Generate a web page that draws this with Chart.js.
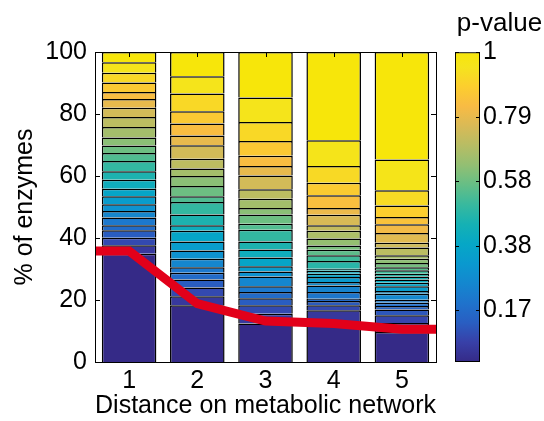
<!DOCTYPE html>
<html><head><meta charset="utf-8">
<script src="https://cdn.jsdelivr.net/npm/chart.js@4/dist/chart.umd.min.js"></script>
<style>
html,body{margin:0;padding:0;background:#fff;}
#wrap{position:relative;width:544px;height:421px;overflow:hidden;}
#main{position:absolute;left:0;top:0;}
#cbar{position:absolute;left:440px;top:0;}
</style></head><body>
<div id="wrap"><canvas id="main" width="544" height="421"></canvas><canvas id="cbar" width="104" height="421"></canvas></div>
<script>
// ---- data ----
const categories = ['1', '2', '3', '4', '5'];
// % of enzymes in successive p-value bins (bottom = smallest p-value)
const bar1 = [34.9, 2.8, 2.4, 2.4, 1.6, 2.5, 2.1, 2.2, 2.6, 2.4, 2.9, 2.7, 3.3, 2.6, 2.4, 2.6, 3.4, 3.2, 3.0, 2.8, 2.3, 3.1, 3.1, 3.4, 3.3];
const bar2 = [18.3, 2.9, 2.8, 2.6, 2.2, 1.8, 2.7, 2.7, 2.9, 3.4, 1.8, 3.5, 4.0, 1.9, 3.3, 3.2, 2.4, 3.2, 4.3, 3.2, 3.8, 4.0, 5.7, 5.6, 7.8];
const bar3 = [12.4, 3.2, 2.7, 2.3, 2.0, 1.8, 3.2, 1.6, 1.7, 2.8, 2.6, 2.6, 3.8, 1.9, 3.0, 2.1, 3.0, 3.0, 4.5, 3.0, 3.3, 4.8, 6.1, 7.9, 14.7];
const bar4 = [12.5, 4.2, 1.6, 1.4, 0.7, 2.2, 2.1, 1.1, 1.6, 1.1, 0.9, 0.7, 2.5, 1.8, 1.8, 1.4, 2.2, 2.5, 1.8, 3.4, 2.2, 4.1, 4.0, 5.4, 8.3, 28.5];
const bar5 = [9.7, 2.9, 2.5, 1.8, 1.2, 1.0, 1.0, 1.9, 0.9, 1.5, 1.2, 1.0, 1.0, 0.9, 1.1, 1.0, 1.3, 1.4, 1.1, 2.5, 1.6, 3.1, 2.8, 2.4, 3.7, 4.9, 9.9, 34.7];
// red line (x in distance units, extended to the axis edges)
const lineX = [0.5, 1, 2, 3, 4, 5, 5.5];
const lineY = [35.8, 35.8, 18.8, 13.2, 12.4, 10.6, 10.6];
const yTicks = [0, 20, 40, 60, 80, 100];
const cbTickValues = [0.1667, 0.375, 0.5833, 0.7917, 1];
const cbTickLabels = ['0.17', '0.38', '0.58', '0.79', '1'];

// ---- parula-like colormap (as seen in the reference) ----
const PARULA = [
 [0/63,0.2081,0.1663,0.5292],[4/63,0.2200,0.2500,0.6600],[8/63,0.1600,0.3700,0.7600],
 [12/63,0.1200,0.4500,0.8000],[16/63,0.0800,0.5300,0.8100],[20/63,0.0400,0.6000,0.8100],
 [24/63,0.0228,0.6535,0.7768],[28/63,0.0843,0.6928,0.7062],[32/63,0.2178,0.7250,0.6193],
 [36/63,0.3953,0.7459,0.5244],[40/63,0.5709,0.7485,0.4494],[44/63,0.7184,0.7411,0.3905],
 [48/63,0.8507,0.7299,0.3360],[52/63,0.9739,0.7314,0.2666],[56/63,0.9880,0.8066,0.1794],
 [60/63,0.9589,0.8949,0.1132],[63/63,0.9700,0.9000,0.0400]
];
function rgb(r,g,b){return 'rgb('+Math.round(r*255)+','+Math.round(g*255)+','+Math.round(b*255)+')';}
function parula(t){
  t=Math.max(0,Math.min(1,t));
  for(let i=1;i<PARULA.length;i++){
    const a=PARULA[i-1], b=PARULA[i];
    if(t<=b[0]){const f=(t-a[0])/(b[0]-a[0]);
      return rgb(a[1]+(b[1]-a[1])*f,a[2]+(b[2]-a[2])*f,a[3]+(b[3]-a[3])*f);}
  }
  const l=PARULA[PARULA.length-1];return rgb(l[1],l[2],l[3]);
}

const FONT = 'Liberation Sans, Arial, Helvetica, sans-serif';
const bars = [bar1, bar2, bar3, bar4, bar5];
const maxN = Math.max(...bars.map(b => b.length));
const datasets = [];
for (let k = 0; k < maxN; k++) {
  datasets.push({
    type: 'bar',
    data: bars.map(b => k < b.length ? b[k] : null),
    backgroundColor: bars.map(b => k < b.length ? parula(k / (b.length - 1)) : 'rgba(0,0,0,0)'),
    borderColor: '#000', borderWidth: 1.5, borderSkipped: 'start',
    barPercentage: 0.8, categoryPercentage: 1.0, grouped: false,
    xAxisID: 'x', yAxisID: 'y', stack: 'bins', order: 1
  });
}
datasets.push({
  type: 'line', data: lineX.map((x, i) => ({x: x, y: lineY[i]})),
  xAxisID: 'xl', yAxisID: 'y', stack: 'line',
  borderColor: '#e2001a', borderWidth: 9, pointRadius: 0, tension: 0, fill: false, order: 0,
  borderJoinStyle: 'miter'
});

const framePlugin = {
  id: 'frame',
  afterDraw(chart) {
    const ctx = chart.ctx, ca = chart.chartArea;
    ctx.save();
    ctx.strokeStyle = '#000'; ctx.lineWidth = 1;
    ctx.strokeRect(Math.round(ca.left) + 0.5, Math.round(ca.top) + 0.5, Math.round(ca.right - ca.left), Math.round(ca.bottom - ca.top));
    const y = chart.scales.y;
    ctx.beginPath();
    yTicks.forEach(v => {
      const py = Math.round(y.getPixelForValue(v)) + 0.5;
      ctx.moveTo(ca.left, py); ctx.lineTo(ca.left + 5, py);
      ctx.moveTo(ca.right, py); ctx.lineTo(ca.right - 5, py);
    });
    const x = chart.scales.x;
    categories.forEach((c, i) => {
      const px = Math.round(x.getPixelForValue(i)) + 0.5;
      ctx.moveTo(px, ca.top); ctx.lineTo(px, ca.top + 5);
    });
    ctx.stroke();
    ctx.restore();
  }
};

new Chart(document.getElementById('main'), {
  data: {labels: categories, datasets: datasets},
  plugins: [framePlugin],
  options: {
    responsive: false, animation: false,
    layout: {padding: {left: 0, right: 108, top: 52, bottom: 0}},
    plugins: {legend: {display: false}, tooltip: {enabled: false}},
    scales: {
      x: {
        type: 'category', offset: true, stacked: true,
        grid: {display: false, drawTicks: false},
        border: {display: false},
        ticks: {color: '#000', font: {family: FONT, size: 25}, padding: 4},
        title: {display: true, text: 'Distance on metabolic network', color: '#000',
                font: {family: FONT, size: 26}, padding: {top: 0, bottom: 0}},
        afterFit: s => { s.height = 59; }
      },
      xl: {type: 'linear', display: false, min: 0.5, max: 5.5},
      y: {
        type: 'linear', stacked: true, min: 0, max: 100,
        afterBuildTicks: s => { s.ticks = yTicks.map(v => ({value: v})); },
        grid: {display: false, drawTicks: false},
        border: {display: false},
        ticks: {color: '#000', font: {family: FONT, size: 25}, padding: 8},
        title: {display: true, text: '% of enzymes', color: '#000',
                font: {family: FONT, size: 25}, padding: {top: 10, bottom: 0}},
        afterFit: s => { s.width = 95; }
      }
    }
  }
});

// ---- colorbar ----
const cbTickPlugin = {
  id: 'cbticks',
  afterDraw(chart) {
    const ctx = chart.ctx, ca = chart.chartArea, y = chart.scales.y;
    ctx.save(); ctx.strokeStyle = '#000'; ctx.lineWidth = 1; ctx.beginPath();
    cbTickValues.forEach(v => {
      const py = Math.round(y.getPixelForValue(v)) + 0.5;
      ctx.moveTo(ca.left, py); ctx.lineTo(ca.left + 4, py);
      ctx.moveTo(ca.right, py); ctx.lineTo(ca.right - 4, py);
    });
    ctx.stroke(); ctx.restore();
  }
};
new Chart(document.getElementById('cbar'), {
  type: 'bar',
  data: {labels: [''], datasets: [{
    data: [[0, 1]],
    backgroundColor: (c) => {
      const ca = c.chart.chartArea;
      if (!ca) return '#888';
      const g = c.chart.ctx.createLinearGradient(0, ca.bottom, 0, ca.top);
      PARULA.forEach(p => g.addColorStop(p[0], rgb(p[1], p[2], p[3])));
      return g;
    },
    borderColor: '#000', borderWidth: 1.3, borderSkipped: false,
    barPercentage: 1, categoryPercentage: 1
  }]},
  plugins: [cbTickPlugin],
  options: {
    responsive: false, animation: false,
    layout: {padding: {left: 15, right: 0, top: 0, bottom: 59}},
    plugins: {
      legend: {display: false}, tooltip: {enabled: false},
      title: {display: true, text: 'p-value', color: '#000', font: {family: FONT, size: 26, weight: 'normal'},
              padding: {top: 8, bottom: 13}}
    },
    scales: {
      x: {display: false},
      y: {
        position: 'right', min: 0, max: 1,
        afterBuildTicks: s => { s.ticks = cbTickValues.map(v => ({value: v})); },
        grid: {display: false, drawTicks: false}, border: {display: false},
        ticks: {color: '#000', font: {family: FONT, size: 25}, padding: 3,
                callback: (v, i) => cbTickLabels[i]},
        afterFit: s => { s.width = 64; }
      }
    }
  }
});
</script>
</body></html>
